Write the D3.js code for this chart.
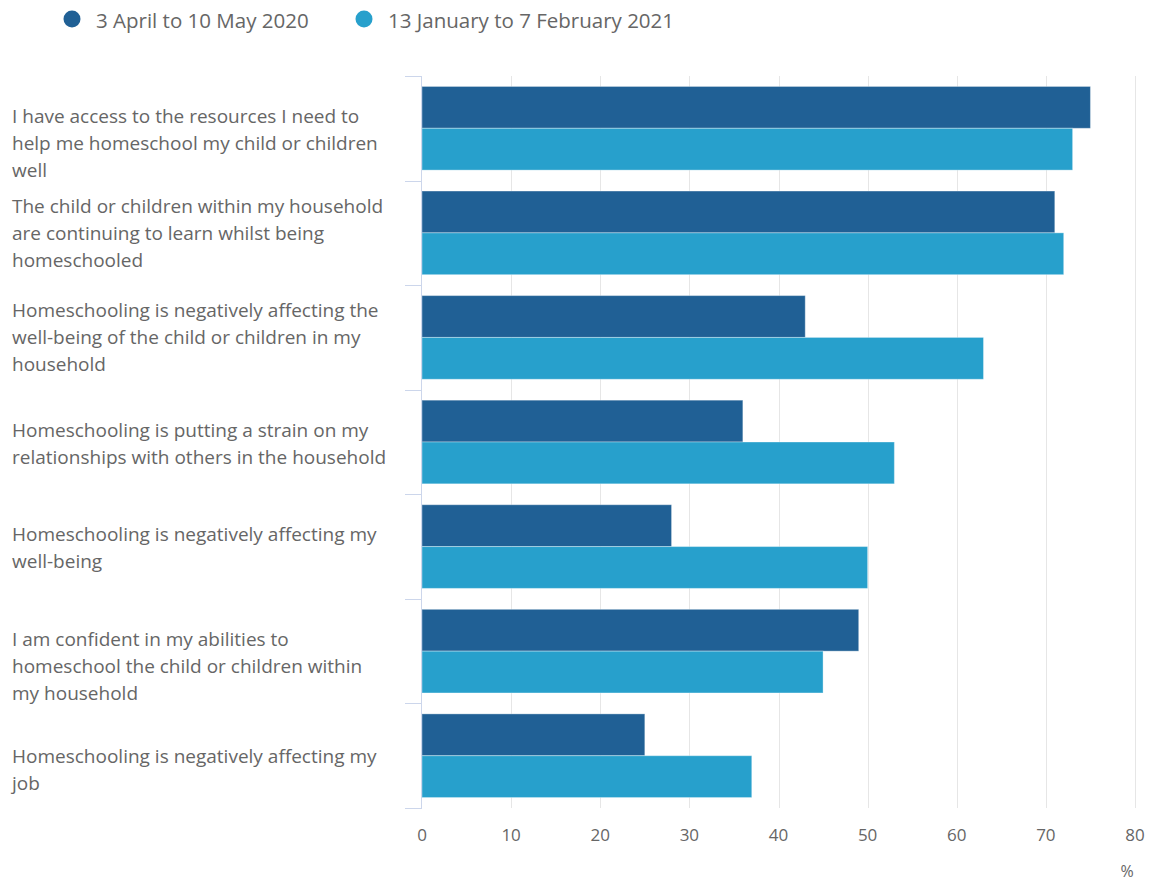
<!DOCTYPE html>
<html>
<head>
<meta charset="utf-8">
<script src="https://cdn.jsdelivr.net/npm/d3@7"></script>
<style>
  html, body { margin: 0; padding: 0; background: #fff; }
  svg { display: block; font-family: "Open Sans", sans-serif; }
</style>
</head>
<body>
<svg id="chart" width="1152" height="881"></svg>
<script>
// ---- Data ----
const categories = [
  "I have access to the resources I need to\nhelp me homeschool my child or children\nwell",
  "The child or children within my household\nare continuing to learn whilst being\nhomeschooled",
  "Homeschooling is negatively affecting the\nwell-being of the child or children in my\nhousehold",
  "Homeschooling is putting a strain on my\nrelationships with others in the household",
  "Homeschooling is negatively affecting my\nwell-being",
  "I am confident in my abilities to\nhomeschool the child or children within\nmy household",
  "Homeschooling is negatively affecting my\njob"
];
const seriesNames = ["3 April to 10 May 2020", "13 January to 7 February 2021"];
const values2020 = [75, 71, 43, 36, 28, 49, 25];
const values2021 = [73, 72, 63, 53, 50, 45, 37];
const xTicks = [0, 10, 20, 30, 40, 50, 60, 70, 80];
const unitLabel = "%";

// ---- Layout / style ----
const colors = ["#206095", "#27a0cc"];
const textColor = "#666666";
const labelDy = [15, 0, 0, 1, 1, 15, 14];
const plot = { left: 422, right: 1135, top: 76, bottom: 808 };

const svg = d3.select("#chart");

const x = d3.scaleLinear().domain([0, 80]).range([plot.left, plot.right]);
const y = d3.scaleBand().domain(d3.range(categories.length)).range([plot.top, plot.bottom]).padding(0);
const bw = y.bandwidth();
const y1 = d3.scaleBand().domain([0, 1]).range([bw * 0.1, bw * 0.9]).padding(0);

// gridlines
svg.append("g")
  .selectAll("line")
  .data(xTicks.slice(1))
  .join("line")
  .attr("x1", d => Math.round(x(d)) + 0.5)
  .attr("x2", d => Math.round(x(d)) + 0.5)
  .attr("y1", plot.top)
  .attr("y2", plot.bottom)
  .attr("stroke", "#e6e6e6")
  .attr("stroke-width", 1);

// bars
const series = [values2020, values2021];
const groups = svg.append("g")
  .selectAll("g")
  .data(categories.map((c, i) => i))
  .join("g")
  .attr("transform", i => `translate(0,${y(i)})`);

groups.selectAll("rect")
  .data(i => series.map((s, k) => ({ k, v: s[i] })))
  .join("rect")
  .attr("x", x(0))
  .attr("y", d => y1(d.k))
  .attr("width", d => x(d.v) - x(0))
  .attr("height", y1.bandwidth())
  .attr("fill", d => colors[d.k])
  .attr("stroke", "#ffffff")
  .attr("stroke-opacity", 0.35)
  .attr("stroke-width", 1);

// left axis line + category ticks
const axisG = svg.append("g");
axisG.append("line")
  .attr("x1", plot.left - 0.5).attr("x2", plot.left - 0.5)
  .attr("y1", plot.top).attr("y2", plot.bottom)
  .attr("stroke", "#ccd6eb");
const bounds = d3.range(categories.length + 1).map(i => i < categories.length ? y(i) : plot.bottom);
axisG.selectAll("line.tick")
  .data(bounds)
  .join("line")
  .attr("class", "tick")
  .attr("x1", plot.left - 17).attr("x2", plot.left)
  .attr("y1", d => Math.round(d) + 0.5).attr("y2", d => Math.round(d) + 0.5)
  .attr("stroke", "#ccd6eb");

// category labels
const lineH = 27;
const labels = svg.append("g")
  .selectAll("text")
  .data(categories.map((c, i) => ({ lines: c.split("\n"), i })))
  .join("text")
  .attr("x", 12)
  .attr("fill", textColor)
  .attr("font-size", 19)
  .attr("dominant-baseline", "central");
labels.each(function(d) {
  const n = d.lines.length;
  const cy = y(d.i) + bw / 2 + labelDy[d.i];
  const t = d3.select(this);
  d.lines.forEach((ln, j) => {
    t.append("tspan")
      .attr("x", 12)
      .attr("y", cy + (j - (n - 1) / 2) * lineH)
      .text(ln);
  });
});

// x axis tick labels
svg.append("g")
  .selectAll("text")
  .data(xTicks)
  .join("text")
  .attr("x", d => x(d))
  .attr("y", 834)
  .attr("text-anchor", "middle")
  .attr("dominant-baseline", "central")
  .attr("fill", textColor)
  .attr("font-size", 17)
  .text(d => d);

svg.append("text")
  .attr("x", 1127)
  .attr("y", 871)
  .attr("text-anchor", "middle")
  .attr("dominant-baseline", "central")
  .attr("fill", textColor)
  .attr("font-size", 16)
  .text(unitLabel);

// legend
const legendX = [72, 364];
const legend = svg.append("g")
  .selectAll("g")
  .data(seriesNames.map((n, k) => ({ n, k })))
  .join("g");
legend.append("circle")
  .attr("cx", d => legendX[d.k])
  .attr("cy", 19)
  .attr("r", 8.5)
  .attr("fill", d => colors[d.k]);
legend.append("text")
  .attr("x", d => legendX[d.k] + 24)
  .attr("y", 20)
  .attr("dominant-baseline", "central")
  .attr("fill", textColor)
  .attr("font-size", 20.5)
  .text(d => d.n);
</script>
</body>
</html>
